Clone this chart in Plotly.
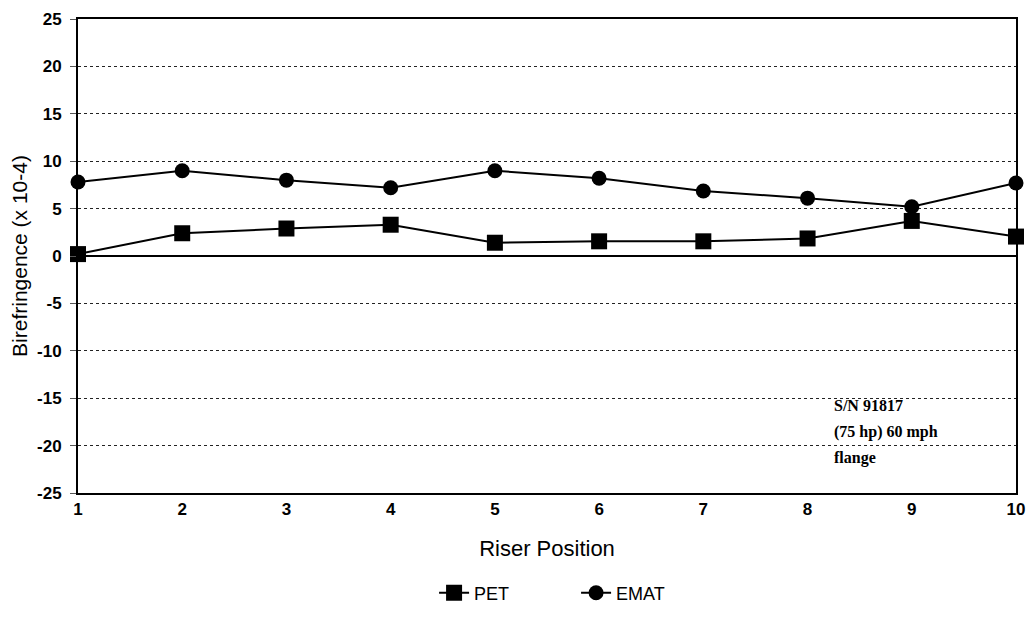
import plotly.graph_objects as go

positions = [1, 2, 3, 4, 5, 6, 7, 8, 9, 10]
pet = [0.2, 2.4, 2.9, 3.3, 1.4, 1.55, 1.55, 1.85, 3.7, 2.05]
emat = [7.8, 9.0, 8.0, 7.2, 9.0, 8.2, 6.85, 6.1, 5.2, 7.7]
y_ticks = [-25, -20, -15, -10, -5, 0, 5, 10, 15, 20, 25]
y_tick_labels = [str(v) for v in y_ticks]
x_ticks = positions
note_lines = ["S/N 91817", "(75 hp) 60 mph", "flange"]

fig = go.Figure()
fig.add_trace(go.Scatter(
    x=positions, y=pet, name="PET", mode="lines+markers",
    line=dict(color="black", width=2),
    marker=dict(symbol="square", size=16, color="black"),
    cliponaxis=False,
))
fig.add_trace(go.Scatter(
    x=positions, y=emat, name="EMAT", mode="lines+markers",
    line=dict(color="black", width=2),
    marker=dict(symbol="circle", size=15, color="black"),
    cliponaxis=False,
))

fig.update_layout(
    width=1020, height=618,
    margin=dict(l=70, r=12, t=11, b=133, autoexpand=False),
    plot_bgcolor="white", paper_bgcolor="white",
    font=dict(family="Liberation Sans, Arial", color="black"),
    showlegend=True,
    legend=dict(orientation="h", x=0.531, xanchor="center", y=-0.211, yanchor="middle",
                font=dict(size=18, family="Liberation Sans, Arial"),
                entrywidth=97, entrywidthmode="pixels"),
    xaxis=dict(
        range=[1, 10], tickvals=x_ticks, showgrid=False, zeroline=False,
        showline=True, linecolor="black", linewidth=2, mirror=True,
        ticks="", ticklabeloverflow="allow", automargin=False,
        tickfont=dict(size=17, family="Liberation Sans, Arial", weight="bold"),
        title=dict(text="Riser Position", font=dict(size=22), standoff=22),
    ),
    yaxis=dict(
        range=[-25, 25], tickvals=y_ticks, ticktext=y_tick_labels, showgrid=True,
        gridcolor="#222", griddash="dot", gridwidth=1,
        zeroline=True, zerolinecolor="black", zerolinewidth=2,
        showline=True, linecolor="black", linewidth=2, mirror=True,
        ticks="outside", ticklen=6, tickcolor="#555", tickwidth=1,
        ticklabelstandoff=5, ticklabeloverflow="allow", automargin=False,
        tickfont=dict(size=17, family="Liberation Sans, Arial", weight="bold"),
        title=dict(text="Birefringence (x 10-4)", font=dict(size=21), standoff=4),
    ),
)

note_y = [0.185, 0.128, 0.074]
for text, yy in zip(note_lines, note_y):
    fig.add_annotation(
        xref="paper", yref="paper", x=0.804, y=yy, xanchor="left", yanchor="middle",
        text=text, showarrow=False, align="left",
        font=dict(family="Liberation Serif, Times New Roman", size=16, color="black", weight="bold"),
    )

fig.write_html("out.html")
